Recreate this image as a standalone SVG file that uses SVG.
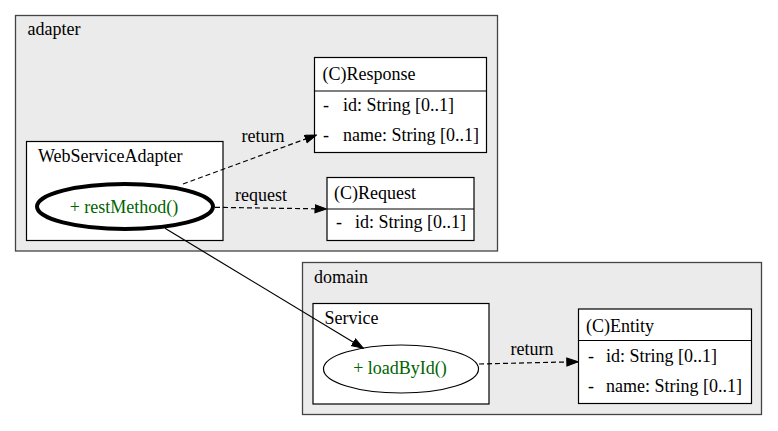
<svg xmlns="http://www.w3.org/2000/svg" width="778" height="431" viewBox="0 0 778 431">
<defs>
<marker id="arr" markerUnits="userSpaceOnUse" markerWidth="13" markerHeight="10" refX="12" refY="4.5" orient="auto">
<path d="M0.5,0.5 L12,4.5 L0.5,8.5 z" fill="#000" stroke="#000" stroke-width="1"/>
</marker>
<style>
.cl{fill:#ebebeb;stroke:#444;stroke-width:1.3}
.box{fill:#fff;stroke:#000;stroke-width:1.2}
.div{stroke:#000;stroke-width:1.2}
.m{fill:#006400;text-anchor:middle}
.e{fill:none;stroke:#000;stroke-width:1.2}
.d{stroke-dasharray:5,3}
</style>
</defs>
<rect width="778" height="431" fill="#fff"/>
<g font-family="'Liberation Serif', 'DejaVu Serif', serif" font-size="18" fill="#000">
<g id="cluster_adapter">
<rect class="cl" x="15.5" y="15.5" width="482" height="235.5"/>
<text x="27.5" y="35">adapter</text>
</g>
<g id="cluster_domain">
<rect class="cl" x="302.5" y="262.5" width="459" height="152"/>
<text x="314" y="282.5">domain</text>
</g>
<g id="WebServiceAdapter">
<rect class="box" x="26.5" y="141.5" width="196.5" height="99"/>
<text x="38" y="161.5">WebServiceAdapter</text>
</g>
<g id="restMethod">
<ellipse cx="125" cy="206.5" rx="88" ry="22.5" fill="#fff" stroke="#000" stroke-width="4"/>
<text class="m" x="124" y="212.5">+ restMethod()</text>
</g>
<g id="Response">
<rect class="box" x="314.5" y="57.5" width="172" height="95"/>
<line class="div" x1="314.5" y1="91" x2="486.5" y2="91"/>
<text x="322.5" y="80">(C)Response</text>
<text x="323" y="111">-</text><text x="343" y="111">id: String [0..1]</text>
<text x="323" y="141">-</text><text x="343" y="141">name: String [0..1]</text>
</g>
<g id="Request">
<rect class="box" x="327" y="177.5" width="147" height="63"/>
<line class="div" x1="327" y1="209" x2="474" y2="209"/>
<text x="334" y="198.5">(C)Request</text>
<text x="336" y="228">-</text><text x="355" y="228">id: String [0..1]</text>
</g>
<g id="Service">
<rect class="box" x="313" y="303.5" width="176" height="100.5"/>
<text x="324.5" y="324">Service</text>
</g>
<g id="loadById">
<ellipse cx="401" cy="369" rx="77.5" ry="24" fill="#fff" stroke="#000" stroke-width="1.2"/>
<text class="m" x="400" y="373.5">+ loadById()</text>
</g>
<g id="Entity">
<rect class="box" x="578.5" y="309" width="173" height="94.5"/>
<line class="div" x1="578.5" y1="340.5" x2="751.5" y2="340.5"/>
<text x="586" y="331.5">(C)Entity</text>
<text x="588" y="361.5">-</text><text x="606" y="361.5">id: String [0..1]</text>
<text x="588" y="391.5">-</text><text x="606" y="391.5">name: String [0..1]</text>
</g>
<g id="connectors">
<path class="e d" d="M183,184 L316.5,135" marker-end="url(#arr)"/>
<text x="241.5" y="141.5">return</text>
<path class="e d" d="M215,207.3 L326.5,209" marker-end="url(#arr)"/>
<text x="235" y="200.5">request</text>
<path class="e" d="M165,228.3 L363.3,348.3" marker-end="url(#arr)"/>
<path class="e d" d="M479,364 L578.3,361.7" marker-end="url(#arr)"/>
<text x="510.5" y="355">return</text>
</g>
</g>
</svg>
